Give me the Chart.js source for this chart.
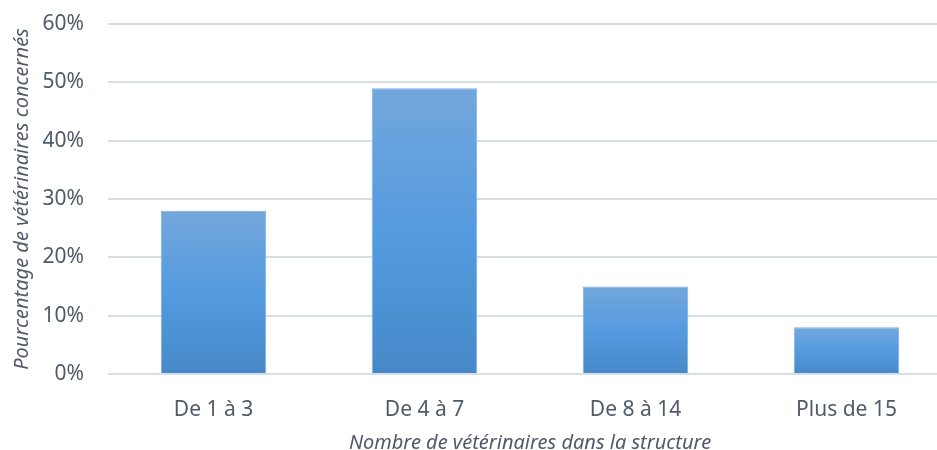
<!DOCTYPE html>
<html lang="fr">
<head>
<meta charset="UTF-8">
<title>Vétérinaires par structure</title>
<script src="https://cdn.jsdelivr.net/npm/chart.js"></script>
<style>
  html, body { margin: 0; padding: 0; background: #ffffff; overflow: hidden; }
  .cadre { width: 952px; height: 450px; position: relative; }
</style>
</head>
<body>
<div class="cadre">
  <canvas id="graficoBarra"></canvas>
</div>
<script>
// données
var categories = ['De 1 à 3', 'De 4 à 7', 'De 8 à 14', 'Plus de 15']
var pourcentages = [28, 49, 15, 8]
var graduations = [0, 10, 20, 30, 40, 50, 60]

var couleurTexte = '#505a68'

function degradeBarre(context) {
  var chart = context.chart
  var area = chart.chartArea
  if (!area || !chart.scales.y) return '#5b9bd5'
  var y = chart.scales.y
  var haut = y.getPixelForValue(context.raw)
  var bas = y.getPixelForValue(0)
  if (!isFinite(haut) || haut === bas) return '#5b9bd5'
  var g = chart.ctx.createLinearGradient(0, haut, 0, bas)
  g.addColorStop(0, '#73a7db')
  g.addColorStop(0.5, '#559be0')
  g.addColorStop(1, '#4589c8')
  return g
}

new Chart(document.getElementById('graficoBarra'), {
  type: 'bar',
  data: {
    labels: categories,
    datasets: [{
      data: pourcentages,
      backgroundColor: degradeBarre,
      borderColor: '#7bafe0',
      borderWidth: 1,
      barPercentage: 0.5,
      categoryPercentage: 1
    }]
  },
  options: {
    responsive: true,
    maintainAspectRatio: false,
    animation: false,
    layout: { padding: { top: 24, left: 10, right: 0, bottom: 0 } },
    plugins: {
      legend: { display: false },
      tooltip: { enabled: false }
    },
    scales: {
      y: {
        min: 0,
        max: 60,
        afterBuildTicks: function (axis) {
          axis.ticks = graduations.map(function (v) { return { value: v } })
        },
        afterFit: function (axis) {
          axis.width = 98
          axis.paddingTop = 0
          axis.paddingBottom = 0
        },
        border: { display: false },
        grid: { color: '#d9dee6', lineWidth: 2, drawTicks: false },
        ticks: {
          color: couleurTexte,
          font: { family: 'Noto Sans', size: 21 },
          padding: 24,
          callback: function (v) { return v + '%' }
        },
        title: {
          display: true,
          text: 'Pourcentage de vétérinaires concernés',
          color: couleurTexte,
          font: { family: 'Noto Sans', size: 20, style: 'italic', lineHeight: 1.2 },
          padding: { top: 0, bottom: 9 }
        }
      },
      x: {
        afterFit: function (axis) { axis.height = 76 },
        border: { display: false },
        grid: { display: false },
        ticks: {
          color: couleurTexte,
          font: { family: 'Noto Sans', size: 21 },
          padding: 15
        },
        title: {
          display: true,
          text: 'Nombre de vétérinaires dans la structure',
          color: couleurTexte,
          font: { family: 'Noto Sans', size: 20, style: 'italic', lineHeight: 0.7 },
          padding: { top: 8, bottom: 0 }
        }
      }
    }
  }
})
</script>
</body>
</html>
